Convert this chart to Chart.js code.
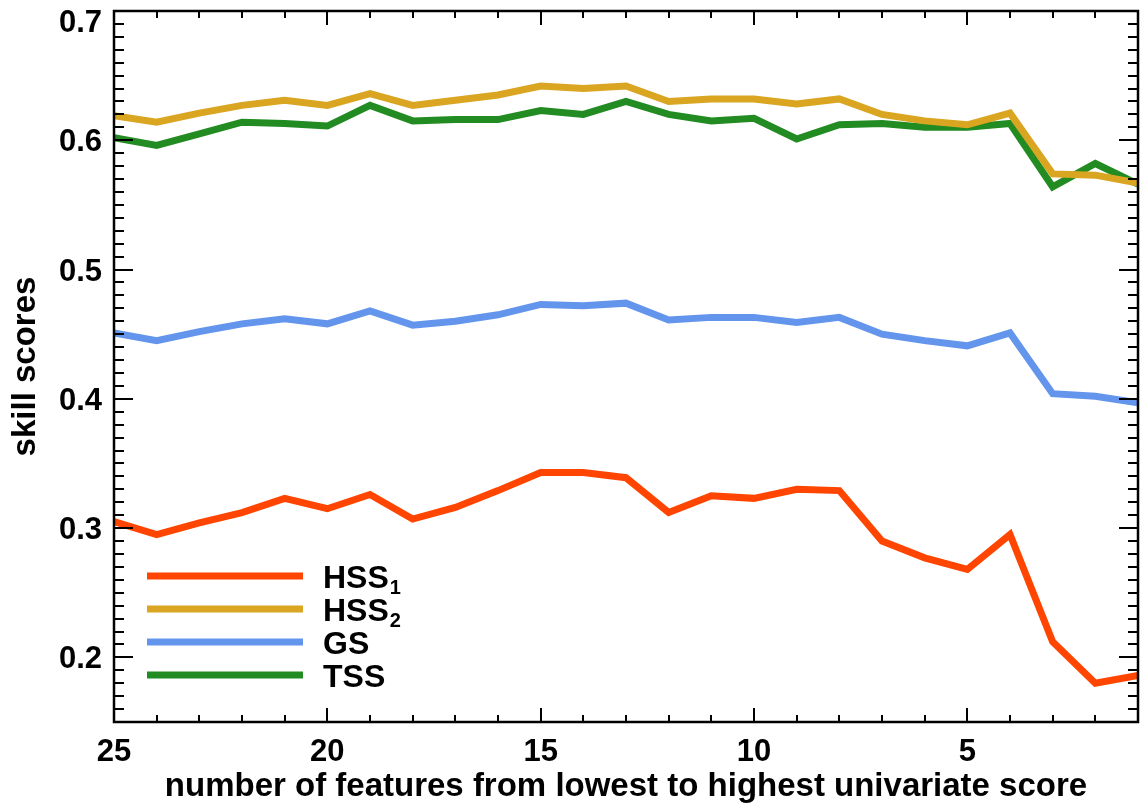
<!DOCTYPE html>
<html>
<head>
<meta charset="utf-8">
<script src="https://cdn.jsdelivr.net/npm/chart.js@4.4.1/dist/chart.umd.min.js"></script>
<style>
  html, body { margin: 0; padding: 0; background: #fff; }
  #wrap { width: 1140px; height: 812px; }
</style>
</head>
<body>
<div id="wrap"><canvas id="c" width="1140" height="812"></canvas></div>
<script>
// number of features kept (25 down to 1)
const features = [25, 24, 23, 22, 21, 20, 19, 18, 17, 16, 15, 14, 13, 12, 11, 10, 9, 8, 7, 6, 5, 4, 3, 2, 1];

const hss1 = [0.305, 0.295, 0.304, 0.312, 0.323, 0.315, 0.326, 0.307, 0.316, 0.329, 0.343, 0.343, 0.339, 0.312, 0.325, 0.323, 0.330, 0.329, 0.290, 0.277, 0.268, 0.295, 0.212, 0.180, 0.186];
const hss2 = [0.619, 0.614, 0.621, 0.627, 0.631, 0.627, 0.636, 0.627, 0.631, 0.635, 0.642, 0.640, 0.642, 0.630, 0.632, 0.632, 0.628, 0.632, 0.620, 0.615, 0.612, 0.621, 0.574, 0.573, 0.567];
const gs   = [0.451, 0.445, 0.452, 0.458, 0.462, 0.458, 0.468, 0.457, 0.460, 0.465, 0.473, 0.472, 0.474, 0.461, 0.463, 0.463, 0.459, 0.463, 0.450, 0.445, 0.441, 0.451, 0.404, 0.402, 0.397];
const tss  = [0.602, 0.596, 0.605, 0.614, 0.613, 0.611, 0.627, 0.615, 0.616, 0.616, 0.623, 0.620, 0.630, 0.620, 0.615, 0.617, 0.601, 0.612, 0.613, 0.610, 0.610, 0.613, 0.564, 0.582, 0.566];

// legend names: base text and subscript
const seriesNames = [['HSS', '1'], ['HSS', '2'], ['GS', ''], ['TSS', '']];
const seriesColors = ['#FF4500', '#DAA520', '#6495ED', '#228B22'];

const xTickValues = [25, 20, 15, 10, 5];
const yTickValues = [0.2, 0.3, 0.4, 0.5, 0.6, 0.7];
const yTickLabels = ['0.2', '0.3', '0.4', '0.5', '0.6', '0.7'];

const FONT = 'Liberation Sans, Arial, Helvetica, sans-serif';

const pts = arr => features.map((f, i) => ({ x: f, y: arr[i] }));

// box with inward major/minor ticks on all four sides, y labels and the legend
const framePlugin = {
  id: 'frame',
  afterDraw(chart) {
    const { ctx, chartArea: a, scales: { x, y } } = chart;
    ctx.save();
    ctx.strokeStyle = '#000';
    ctx.lineWidth = 2;
    ctx.lineCap = 'butt';
    ctx.beginPath();
    for (let v = 1; v <= 25; v++) {
      const px = Math.round(x.getPixelForValue(v));
      const len = v % 5 === 0 ? 14 : 7;
      ctx.moveTo(px, a.bottom); ctx.lineTo(px, a.bottom - len);
      ctx.moveTo(px, a.top); ctx.lineTo(px, a.top + len);
    }
    for (let k = 15; k <= 70; k++) {
      const py = Math.round(y.getPixelForValue(k / 100));
      const len = k % 10 === 0 ? 19 : 10;
      ctx.moveTo(a.left, py); ctx.lineTo(a.left + len, py);
      ctx.moveTo(a.right, py); ctx.lineTo(a.right - len, py);
    }
    ctx.stroke();
    ctx.lineWidth = 2.5;
    ctx.strokeRect(a.left, a.top, a.right - a.left, a.bottom - a.top);

    // y tick labels, kept inside the canvas at the top
    ctx.fillStyle = '#000';
    ctx.font = 'bold 31px ' + FONT;
    ctx.textAlign = 'right';
    ctx.textBaseline = 'alphabetic';
    yTickValues.forEach((v, i) => {
      const cy = Math.max(y.getPixelForValue(v), 21);
      ctx.fillText(yTickLabels[i], a.left - 12, cy + 11);
    });

    const lx0 = a.left + 33, lx1 = a.left + 189, tx = a.left + 209;
    let ly = 576;
    ctx.textAlign = 'left';
    chart.data.datasets.forEach((ds, i) => {
      ctx.strokeStyle = ds.borderColor;
      ctx.lineWidth = 7;
      ctx.beginPath();
      ctx.moveTo(lx0, ly); ctx.lineTo(lx1, ly);
      ctx.stroke();
      const [base, sub] = seriesNames[i];
      ctx.fillStyle = '#000';
      ctx.font = 'bold 32px ' + FONT;
      ctx.fillText(base, tx, ly + 11.5);
      if (sub) {
        const w = ctx.measureText(base).width;
        ctx.font = 'bold 20px ' + FONT;
        ctx.fillText(sub, tx + w + 1, ly + 18);
      }
      ly += 33;
    });
    ctx.restore();
  }
};

new Chart(document.getElementById('c'), {
  type: 'line',
  data: {
    datasets: [
      { label: 'HSS1', data: pts(hss1), borderColor: seriesColors[0] },
      { label: 'HSS2', data: pts(hss2), borderColor: seriesColors[1] },
      { label: 'GS',   data: pts(gs),   borderColor: seriesColors[2] },
      { label: 'TSS',  data: pts(tss),  borderColor: seriesColors[3] }
    ]
  },
  options: {
    responsive: false,
    animation: false,
    layout: { padding: { top: 11, right: 2, left: 0, bottom: 0 } },
    elements: {
      line: { borderWidth: 7, tension: 0, borderJoinStyle: 'miter', borderCapStyle: 'butt', fill: false },
      point: { radius: 0, hoverRadius: 0 }
    },
    plugins: { legend: { display: false }, tooltip: { enabled: false } },
    scales: {
      x: {
        type: 'linear',
        reverse: true,
        min: 1,
        max: 25,
        afterBuildTicks: s => { s.ticks = xTickValues.map(v => ({ value: v })); },
        afterFit: s => { s.height = 90; s.paddingLeft = 0; s.paddingRight = 0; },
        grid: { display: false, drawTicks: false },
        border: { display: false },
        ticks: { color: '#000', padding: 12, maxRotation: 0, font: { family: FONT, size: 31, weight: 'bold' }, callback: v => String(v) },
        title: {
          display: true,
          text: 'number of features from lowest to highest univariate score',
          color: '#000',
          font: { family: FONT, size: 33, weight: 'bold' },
          padding: { top: 0, bottom: 5 }
        }
      },
      y: {
        type: 'linear',
        min: 0.15,
        max: 0.7,
        afterBuildTicks: s => { s.ticks = yTickValues.map(v => ({ value: v })); },
        afterFit: s => { s.width = 114; s.paddingTop = 0; s.paddingBottom = 0; },
        grid: { display: false, drawTicks: false },
        border: { display: false },
        ticks: { display: false },
        title: {
          display: true,
          text: 'skill scores',
          color: '#000',
          font: { family: FONT, size: 33, weight: 'bold' },
          padding: { top: 6, bottom: 0 }
        }
      }
    }
  },
  plugins: [framePlugin]
});
</script>
</body>
</html>
